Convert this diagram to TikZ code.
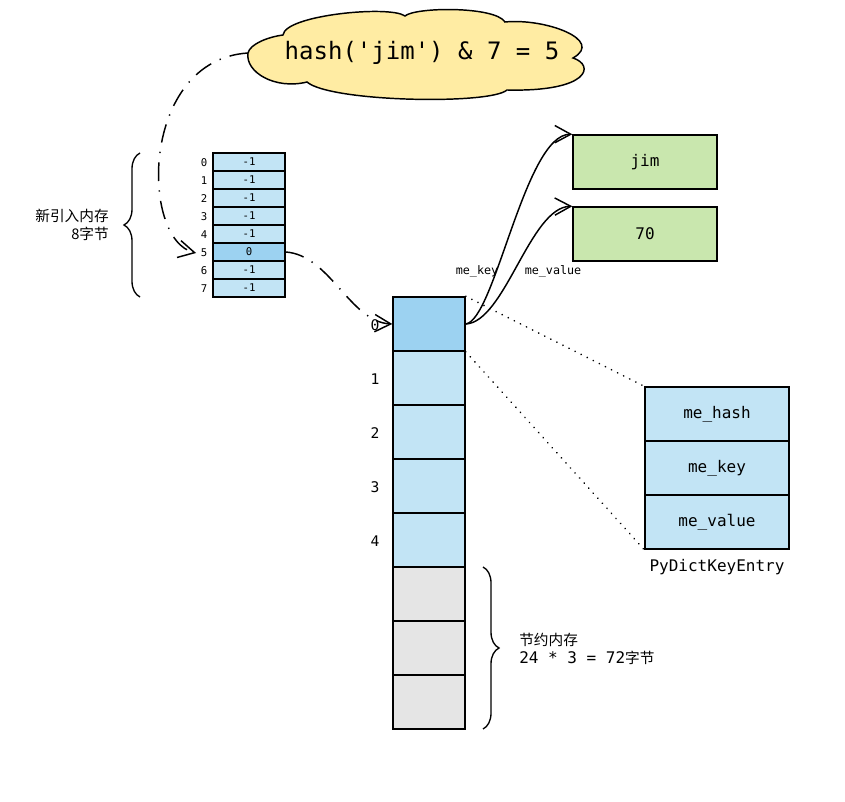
\documentclass[tikz,border=0pt]{standalone}
\usepackage{fontspec}
\setmainfont{DejaVu Sans}
\setmonofont{DejaVu Sans Mono}
\newfontfamily\cjk{Noto Sans CJK SC}
\usetikzlibrary{arrows.meta,decorations.pathreplacing}
\definecolor{slotblue}{RGB}{194,228,245}
\definecolor{hitblue}{RGB}{156,210,241}
\definecolor{freegray}{RGB}{229,229,229}
\definecolor{objgreen}{RGB}{201,231,174}
\definecolor{cloudyellow}{RGB}{255,236,163}

\begin{document}
\begin{tikzpicture}[x=0.75pt,y=-0.75pt,>={Straight Barb[length=12pt,width=13pt]},
  cell/.style={draw,line width=1.1pt,minimum width=54pt,minimum height=40.5pt,inner sep=0pt},
  slot/.style={draw,line width=1pt,minimum width=54pt,minimum height=13.5pt,inner sep=0pt,font=\ttfamily\fontsize{8}{9}\selectfont},
  obj/.style={cell,fill=objgreen,minimum width=108pt,font=\ttfamily\fontsize{12}{13}\selectfont},
  field/.style={cell,fill=slotblue,minimum width=108pt,font=\ttfamily\fontsize{12}{13}\selectfont},
  jump/.style={line width=1.1pt,dash pattern=on 14pt off 7pt on 1pt off 7pt},
  dots/.style={line width=1.3pt,line cap=round,dash pattern=on 0.1pt off 5pt},
  brc/.style={decorate,decoration={brace,amplitude=12pt},line width=1pt}]
\useasboundingbox (0,0) rectangle (845,802);

% hash cloud
\draw[line width=1.1pt,fill=cloudyellow] (248,53)
  .. controls (250,44) and (268,37) .. (283,35)
  .. controls (285,15) and (390,5) .. (405,16)
  .. controls (415,7) and (495,6) .. (505,22)
  .. controls (545,18) and (605,40) .. (573,58)
  .. controls (595,65) and (590,92) .. (507,90)
  .. controls (490,105) and (330,102) .. (307,82)
  .. controls (275,90) and (245,72) .. cycle;
\coordinate (cloudtip) at (248,53);
\node[font=\ttfamily\fontsize{18}{20}\selectfont] (hashexpr) at (422,53) {hash('jim') \& 7 = 5};

% indices array
\foreach \i in {0,...,7} {
  \ifnum\i=5 \def\v{0}\def\c{hitblue}\else\def\v{-1}\def\c{slotblue}\fi
  \node[slot,fill=\c] (s\i) at (249,162+18*\i) {\v};
  \node[font=\ttfamily\fontsize{8}{9}\selectfont] (si\i) at (204,163+18*\i) {\i};
}
\draw[brc] (140,297) -- (140,153);
\node[align=right,anchor=east,inner sep=0pt,font=\cjk\fontsize{11}{14}\selectfont] (newmem) at (109,225) {新引入内存\\8字节};

% entries array
\foreach \i in {0,...,7} {
  \ifnum\i=0 \def\c{hitblue}\else\ifnum\i<5 \def\c{slotblue}\else\def\c{freegray}\fi\fi
  \node[cell,fill=\c] (e\i) at (429,324+54*\i) {};
}
\foreach \i in {0,...,4}
  \node[font=\ttfamily\fontsize{11}{12}\selectfont] (ei\i) at (375,325+54*\i) {\i};
\draw[brc] (483,567) -- (483,729);
\node[align=left,anchor=west,inner sep=0pt,font=\cjk\fontsize{11}{13.5}\selectfont] (saved) at (519,649)
  {节约内存\\{\ttfamily\fontsize{12}{13.5}\selectfont 24 * 3 = 72}字节};

% key / value objects
\node[obj] (jim) at (645,162) {jim};
\node[obj] (seventy) at (645,234) {70};
\draw[->,line width=1.1pt] (e0.east) .. controls (495,320) and (525,134) .. (jim.north west);
\draw[->,line width=1.1pt] (e0.east) .. controls (505,322) and (530,207) .. (seventy.north west);
\node[font=\ttfamily\fontsize{8.8}{10}\selectfont] (lkey) at (477,271) {me\_key};
\node[font=\ttfamily\fontsize{8.8}{10}\selectfont] (lval) at (553,271) {me\_value};

% entry layout
\node[field] (hash) at (717,414) {me\_hash};
\node[field] (key) at (717,468) {me\_key};
\node[field] (val) at (717,522) {me\_value};
\node[font=\ttfamily\fontsize{12}{13}\selectfont] (entry) at (717,567) {PyDictKeyEntry};
\draw[dots] (e0.north east) -- (hash.north west);
\draw[dots] (e0.south east) -- (val.south west);

% lookup path
\draw[jump,->] (cloudtip) .. controls (140,60) and (140,240) .. (si5.west);
\draw[jump,->] (s5.east) .. controls (330,255) and (350,322) .. (e0.west);
\end{tikzpicture}
\end{document}
